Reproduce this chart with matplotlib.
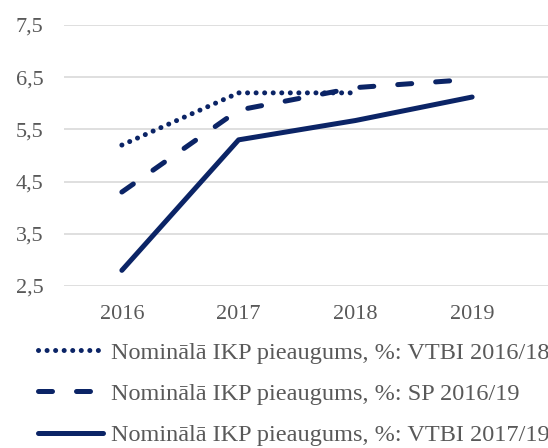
import matplotlib.pyplot as plt

plt.rcParams['font.family'] = ['Liberation Serif', 'DejaVu Serif']

years = ['2016', '2017', '2018', '2019']
vtbi_1618 = [5.2, 6.2, 6.2]
sp_1619 = [4.3, 5.87, 6.3, 6.46]
vtbi_1719 = [2.8, 5.3, 5.67, 6.12]
yticks = [2.5, 3.5, 4.5, 5.5, 6.5, 7.5]

navy = '#0b2466'
gray = '#595959'
lw = 3.6

fig = plt.figure(figsize=(5.48, 4.48), dpi=100)
ax = fig.add_axes([63.5 / 548, (448 - 286) / 448, 1 - 63.5 / 548, (286 - 25) / 448])

x = range(len(years))
ax.plot(range(len(vtbi_1618)), vtbi_1618, color=navy, lw=lw,
        linestyle=(0, (0.01, 1.7)), dash_capstyle='round',
        label='Nominālā IKP pieaugums, %: VTBI 2016/18')
ax.plot(x, sp_1619, color=navy, lw=lw, linestyle=(0, (2.8, 4.8)),
        dash_capstyle='round', label='Nominālā IKP pieaugums, %: SP 2016/19')
ax.plot(x, vtbi_1719, color=navy, lw=lw, solid_capstyle='round',
        label='Nominālā IKP pieaugums, %: VTBI 2017/19')

ax.set_xlim(-0.5, 3.65)
ax.set_ylim(2.5, 7.5)
ax.set_xticks(list(x))
ax.set_xticklabels(years)
ax.set_yticks(yticks)
ax.set_yticklabels([str(v).replace('.', ',') for v in yticks])
ax.tick_params(length=0, labelsize=16, colors=gray)
ax.tick_params(axis='y', pad=14.5)
ax.tick_params(axis='x', pad=14)
ax.grid(axis='y', color='#d9d9d9', lw=1.2)
ax.set_axisbelow(True)
for s in ax.spines.values():
    s.set_visible(False)

# legend text runs off the right edge, as in the original
fig.legend(loc='upper left', bbox_to_anchor=(28 / 548, 1 - 332 / 448),
           frameon=False, fontsize=17.5, labelcolor=gray, handlelength=2.7,
           handletextpad=0.33, labelspacing=0.79, borderaxespad=0)

fig.savefig('out.png', dpi=100)
